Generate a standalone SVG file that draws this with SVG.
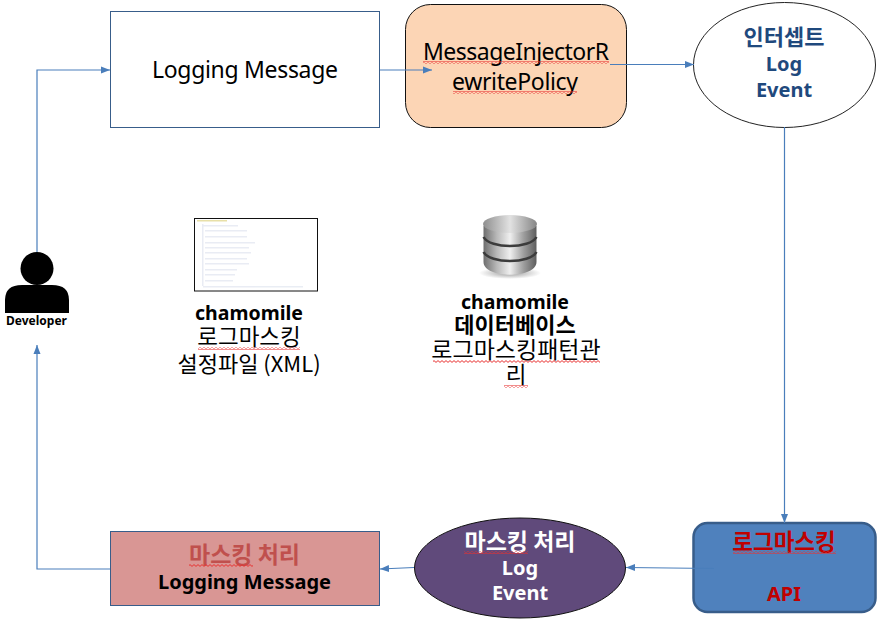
<svg xmlns="http://www.w3.org/2000/svg" width="884" height="624" viewBox="0 0 884 624">
  <style>
    text { font-family: "Noto Sans", "Noto Sans CJK KR", "Open Sans", sans-serif; text-anchor: middle; }
    .ko { font-family: "Noto Sans CJK KR", "Noto Sans", sans-serif; }
    .b { font-weight: 700; }
    .box { stroke: #385D8A; stroke-width: 1; }
    .wire { fill: none; stroke: #4A7EBB; stroke-width: 1.2; }
    .tip { marker-end: url(#tip); }
    .sq { fill: url(#squiggle); }
    .doc { fill: #c9d2e4; opacity: .4; }
  </style>
  <defs>
    <marker id="tip" markerUnits="userSpaceOnUse" markerWidth="9" markerHeight="8" refX="9" refY="4" orient="auto">
      <path d="M0 .5L9 4L0 7.5Z" fill="#4A7EBB"/>
    </marker>
    <pattern id="squiggle" width="4" height="3" patternUnits="userSpaceOnUse">
      <path d="M0 2.400L2 .6L4 2.400" fill="none" stroke="#e8302f" stroke-width="1"/>
    </pattern>
    <linearGradient id="metal" x1="0" x2="1" y1="0" y2="0">
      <stop offset="0" stop-color="#6e6e6e"/>
      <stop offset=".25" stop-color="#b8b8b8"/>
      <stop offset=".5" stop-color="#efefef"/>
      <stop offset=".75" stop-color="#a0a0a0"/>
      <stop offset="1" stop-color="#5e5e5e"/>
    </linearGradient>
    <linearGradient id="lid" x1="0" x2="1" y1="0" y2="0">
      <stop offset="0" stop-color="#8e8e8e"/>
      <stop offset=".5" stop-color="#e2e2e2"/>
      <stop offset="1" stop-color="#858585"/>
    </linearGradient>
    <radialGradient id="shade">
      <stop offset="0" stop-color="#555" stop-opacity=".6"/>
      <stop offset="1" stop-color="#555" stop-opacity="0"/>
    </radialGradient>
  </defs>

  <rect width="884" height="624" fill="#fff"/>

  <g id="logging-message">
    <rect class="box" x="110.500" y="11.500" width="269" height="116" fill="#fff"/>
    <text x="245" y="78" font-size="23" textLength="186">Logging Message</text>
  </g>

  <g id="rewrite-policy">
    <rect x="405.500" y="4.500" width="221" height="123" rx="25" fill="#FCD5B5" stroke="#111" stroke-width="1"/>
    <text x="516" y="60" font-size="23" textLength="186">MessageInjectorR</text>
    <text x="515" y="90" font-size="23" textLength="126">ewritePolicy</text>
    <rect class="sq" x="423" y="61" width="186" height="3"/>
    <rect class="sq" x="453" y="91" width="124" height="3"/>
  </g>

  <g id="intercepted-event">
    <ellipse cx="784.500" cy="65" rx="91" ry="62.500" fill="#fff" stroke="#222" stroke-width="1"/>
    <text class="b ko" x="784" y="45" font-size="22" fill="#1F497D">인터셉트</text>
    <text class="b" x="784" y="71" font-size="20" fill="#1F497D">Log</text>
    <text class="b" x="784" y="97" font-size="20" fill="#1F497D">Event</text>
  </g>

  <g id="developer">
    <circle cx="37" cy="268.500" r="16.500" fill="#000"/>
    <path d="M5 313V300Q5 285 22 285H52Q69 285 69 300V313Z" fill="#000"/>
    <text class="b" x="36.500" y="325" font-size="12">Developer</text>
  </g>

  <g id="config-file">
    <rect x="194.500" y="218.500" width="123" height="72.500" fill="#fff" stroke="#111" stroke-width="1"/>
    <rect x="197" y="220" width="30" height="1.500" fill="#e8e0a8"/>
    <g class="doc">
      <rect x="203" y="225" width="35" height="1.500"/>
      <rect x="205" y="230" width="42" height="1.500"/>
      <rect x="205" y="236" width="42" height="1.500"/>
      <rect x="205" y="242" width="50" height="1.500"/>
      <rect x="205" y="247" width="44" height="1.500"/>
      <rect x="205" y="252" width="46" height="1.500"/>
      <rect x="205" y="258" width="42" height="1.500"/>
      <rect x="205" y="263" width="44" height="1.500"/>
      <rect x="205" y="269" width="32" height="1.500"/>
      <rect x="205" y="274" width="30" height="1.500"/>
      <rect x="205" y="280" width="28" height="1.500"/>
      <rect x="203" y="286" width="100" height="1.500"/>
      <rect x="202" y="224" width="1.500" height="62"/>
    </g>
    <text class="b" x="249" y="320" font-size="19.500">chamomile</text>
    <text class="ko" x="249" y="345" font-size="22.500">로그마스킹</text>
    <rect class="sq" x="198" y="347" width="102" height="3"/>
    <text class="ko" x="249" y="372" font-size="22">설정파일 (XML)</text>
  </g>

  <g id="pattern-database">
    <ellipse cx="510" cy="273" rx="31" ry="6" fill="url(#shade)"/>
    <path d="M483.500 262V226H536.500V262C536.500 279 483.500 279 483.500 262Z" fill="url(#metal)"/>
    <ellipse cx="510" cy="224" rx="27" ry="9" fill="url(#lid)"/>
    <path d="M483.500 237C490 249 530 249 536.500 237" fill="none" stroke="#3c3c3c" stroke-width="2.500"/>
    <path d="M483.500 252C490 264 530 264 536.500 252" fill="none" stroke="#3c3c3c" stroke-width="2.500"/>
    <text class="b" x="515" y="309" font-size="19.500">chamomile</text>
    <text class="b ko" x="515" y="333" font-size="22">데이터베이스</text>
    <text class="ko" x="516" y="358" font-size="23">로그마스킹패턴관</text>
    <rect class="sq" x="433" y="360" width="167" height="3"/>
    <text class="ko" x="516" y="383" font-size="22.500">리</text>
    <rect class="sq" x="504" y="385" width="24" height="3"/>
  </g>

  <g id="masking-api">
    <rect x="693.500" y="523" width="182" height="89" rx="14" fill="#4F81BD" stroke="#385D8A" stroke-width="2.500"/>
    <text class="b ko" x="784" y="550" font-size="22.500" fill="#C00000">로그마스킹</text>
    <rect class="sq" x="733" y="551" width="103" height="3"/>
    <text class="b" x="784" y="601" font-size="20" fill="#C00000">API</text>
  </g>

  <g id="masked-event">
    <ellipse cx="520" cy="568" rx="105.500" ry="50" fill="#604A7B" stroke="#111" stroke-width="1"/>
    <text class="b ko" x="520" y="550" font-size="23" fill="#fff">마스킹 처리</text>
    <rect class="sq" x="464" y="551" width="64" height="3"/>
    <text class="b" x="520" y="575" font-size="20" fill="#fff">Log</text>
    <text class="b" x="520" y="600" font-size="20" fill="#fff">Event</text>
  </g>

  <g id="masked-message">
    <rect class="box" x="110.500" y="531.500" width="269" height="74" fill="#D99694"/>
    <text class="b ko" x="244.500" y="563" font-size="23" fill="#C0504D">마스킹 처리</text>
    <rect class="sq" x="189" y="564" width="64" height="3"/>
    <text class="b" x="244.500" y="589" font-size="20" textLength="173" fill="#000">Logging Message</text>
  </g>

  <g id="connectors">
    <path class="wire tip" d="M37 252V70H110"/>
    <path class="wire tip" d="M380 70H432"/>
    <path class="wire tip" d="M610 64.500H694"/>
    <path class="wire tip" d="M784.500 127V523"/>
    <path class="wire tip" d="M714 568.500L626 567.500"/>
    <path class="wire tip" d="M414 567.500L380 569"/>
    <path class="wire tip" d="M110 569H37V345"/>
  </g>
</svg>
